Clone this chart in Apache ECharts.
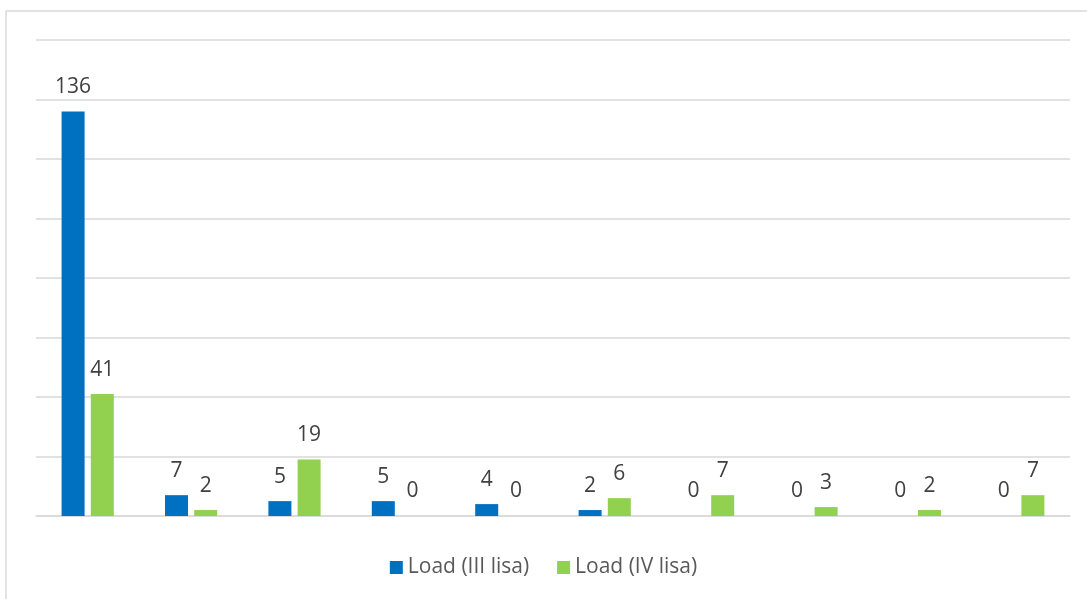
<!DOCTYPE html>
<html>
<head>
<meta charset="utf-8">
<script src="https://cdn.jsdelivr.net/npm/echarts@6/dist/echarts.min.js"></script>
<style>
  html, body { margin: 0; padding: 0; background: #fff; }
  #mainChart { width: 1087px; height: 599px; }
</style>
</head>
<body>
<div id="mainChart"></div>
<script>
	// data
	var categories = ['1', '2', '3', '4', '5', '6', '7', '8', '9', '10'];
	var seriesNames = ['Load (III lisa)', 'Load (IV lisa)'];
	var loadIII = [136, 7, 5, 5, 4, 2, 0, 0, 0, 0];
	var loadIV = [41, 2, 19, 0, 0, 6, 7, 3, 2, 7];

	var myChart = echarts.init(document.getElementById('mainChart'));
	var labelStyle = {
		show : true,
		position : 'top',
		distance : 14,
		color : '#404040',
		fontSize : 21,
		fontFamily : 'Open Sans'
	};
	var option = {
		backgroundColor : '#ffffff',
		animation : false,
		graphic : [ {
			type : 'rect',
			shape : { x : 6, y : 11, width : 1100, height : 620 },
			style : { fill : 'none', stroke : '#d9d9d9', lineWidth : 1.5 },
			silent : true
		} ],
		legend : {
			bottom : 16,
			left : 'center',
			itemWidth : 13,
			itemHeight : 13,
			itemGap : 28,
			icon : 'rect',
			textStyle : { color : '#595959', fontSize : 21, fontFamily : 'Open Sans' },
			data : seriesNames
		},
		grid : { left : 36, right : 17, top : 40, bottom : 83 },
		xAxis : {
			type : 'category',
			data : categories,
			axisLine : { lineStyle : { color : '#d9d9d9', width : 1.5 } },
			axisTick : { show : false },
			axisLabel : { show : false }
		},
		yAxis : {
			type : 'value',
			min : 0,
			max : 160,
			interval : 20,
			axisLabel : { show : false },
			axisLine : { show : false },
			axisTick : { show : false },
			splitLine : { lineStyle : { color : '#d9d9d9', width : 1.5 } }
		},
		series : [ {
			name : seriesNames[0],
			type : 'bar',
			data : loadIII,
			barWidth : 23,
			barGap : '27%',
			itemStyle : { color : '#0070C0' },
			label : labelStyle
		}, {
			name : seriesNames[1],
			type : 'bar',
			data : loadIV,
			barWidth : 23,
			itemStyle : { color : '#92D050' },
			label : labelStyle
		} ]
	};
	myChart.setOption(option, true);
</script>
</body>
</html>
